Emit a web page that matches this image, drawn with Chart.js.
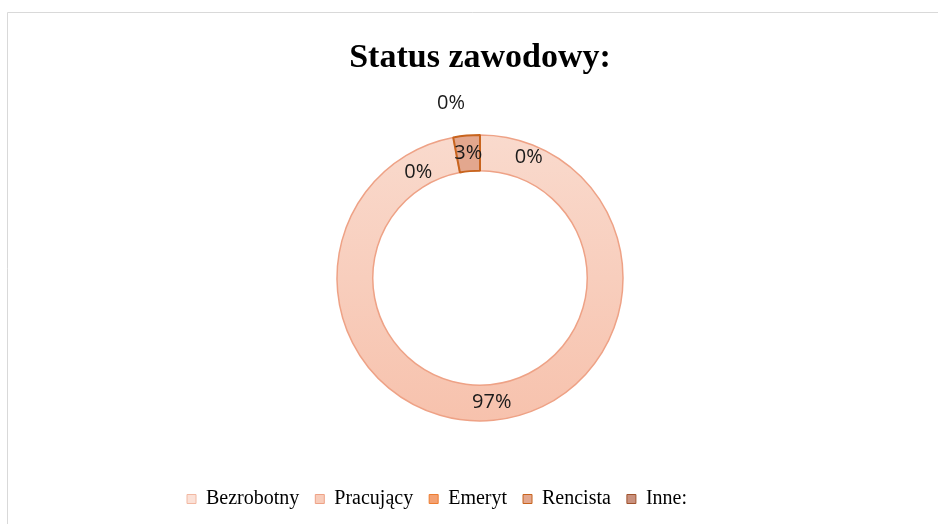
<!DOCTYPE html>
<html>
<head>
<meta charset="utf-8">
<script src="https://cdn.jsdelivr.net/npm/chart.js@4"></script>
<style>
    html, body { margin: 0; padding: 0; background: #fff; }
    #wrap { width: 938px; height: 524px; }
</style>
</head>
<body>
<div id="wrap"><canvas id="statusChart" width="938" height="524"></canvas></div>
<script>
const categories = ['Bezrobotny', 'Pracujący', 'Emeryt', 'Rencista', 'Inne:'];
const shares = [0, 97, 0, 3, 0];
const valueLabels = shares.map(v => v + '%');

const fillColors = ['#fbe1d7', '#f8ccba', '#f4a172', '#e3a78e', '#c9917e'];
const edgeColors = ['#f2b8a2', '#eea286', '#ed7d31', '#c8641e', '#a0532d'];
const edgeWidths = [1.5, 1.5, 1.5, 2, 2];

// where Excel put the labels of the empty slices (angle shift in degrees, radius as part of outer radius)
const labelShift = [{ a: 22, r: 0.91 }, null, { a: -19.5, r: 0.855 }, null, { a: -9.4, r: 1.24 }];

function ringFill(ctx) {
    const i = ctx.dataIndex;
    const area = ctx.chart.chartArea;
    if (i !== 1 || !area) return fillColors[i];
    const cy = (area.top + area.bottom) / 2;
    const g = ctx.chart.ctx.createLinearGradient(0, cy - 144, 0, cy + 144);
    g.addColorStop(0, '#f9dacd');
    g.addColorStop(1, '#f7c2ad');
    return g;
}

const framePlugin = {
    id: 'frame',
    beforeDraw(chart) {
        const c = chart.ctx;
        c.save();
        c.fillStyle = '#fff';
        c.fillRect(0, 0, chart.width, chart.height);
        c.strokeStyle = '#d9d9d9';
        c.lineWidth = 1;
        c.beginPath();
        c.moveTo(7.5, chart.height);
        c.lineTo(7.5, 12.5);
        c.lineTo(chart.width, 12.5);
        c.stroke();
        c.restore();
    }
};

const sliceLabels = {
    id: 'sliceLabels',
    afterDatasetsDraw(chart) {
        const c = chart.ctx;
        const meta = chart.getDatasetMeta(0);
        c.save();
        c.font = '20px "Open Sans", sans-serif';
        c.fillStyle = '#1a1a1a';
        c.textAlign = 'center';
        c.textBaseline = 'middle';
        meta.data.forEach((arc, i) => {
            const p = arc.getProps(['x', 'y', 'startAngle', 'endAngle', 'innerRadius', 'outerRadius'], true);
            let ang = (p.startAngle + p.endAngle) / 2;
            let r = (p.innerRadius + p.outerRadius) / 2;
            const s = labelShift[i];
            if (s) {
                ang += s.a * Math.PI / 180;
                r = p.outerRadius * s.r;
            }
            c.fillText(valueLabels[i], p.x + r * Math.cos(ang), p.y + r * Math.sin(ang));
        });
        c.restore();
    }
};

new Chart(document.getElementById('statusChart'), {
    type: 'doughnut',
    data: {
        labels: categories,
        datasets: [{
            data: shares,
            backgroundColor: ringFill,
            borderColor: edgeColors,
            borderWidth: edgeWidths,
            radius: 143,
            cutout: '75%'
        }]
    },
    options: {
        responsive: false,
        animation: false,
        layout: { padding: { left: 171, right: 149, top: 0, bottom: 5 } },
        plugins: {
            tooltip: { enabled: false },
            title: {
                display: true,
                text: 'Status zawodowy:',
                color: '#000',
                font: { family: '"Liberation Serif", "Times New Roman", serif', size: 34, weight: 'bold' },
                padding: { top: 38, bottom: 4 }
            },
            legend: {
                position: 'bottom',
                align: 'start',
                labels: {
                    color: '#000',
                    font: { family: '"Liberation Serif", "Times New Roman", serif', size: 20 },
                    boxWidth: 9,
                    boxHeight: 9,
                    padding: 16,
                    generateLabels: () => categories.map((name, i) => ({
                        text: name,
                        fillStyle: fillColors[i],
                        strokeStyle: edgeColors[i],
                        lineWidth: 1,
                        index: i
                    }))
                }
            }
        }
    },
    plugins: [framePlugin, sliceLabels]
});
</script>
</body>
</html>
